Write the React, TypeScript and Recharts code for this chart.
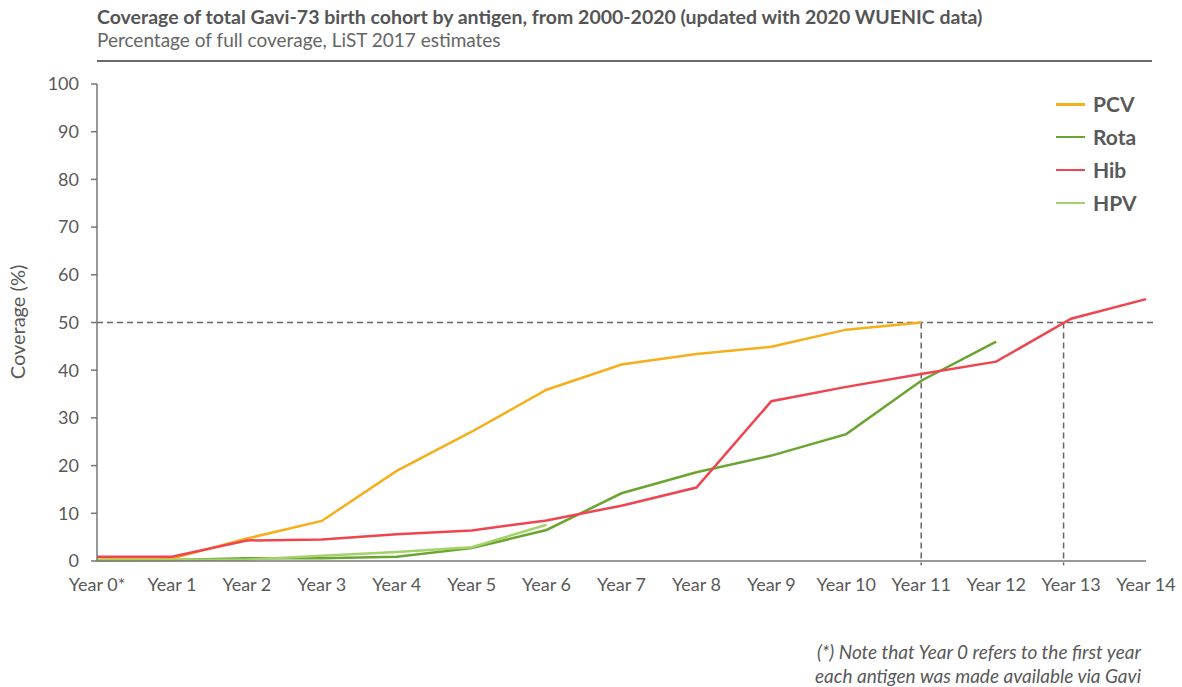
import React from 'react';
import { LineChart, Line, XAxis, YAxis, ReferenceLine } from 'recharts';

// Years since each antigen was introduced via Gavi
const years = [0, 1, 2, 3, 4, 5, 6, 7, 8, 9, 10, 11, 12, 13, 14];
const yearLabels = [
  'Year 0*', 'Year 1', 'Year 2', 'Year 3', 'Year 4', 'Year 5', 'Year 6', 'Year 7',
  'Year 8', 'Year 9', 'Year 10', 'Year 11', 'Year 12', 'Year 13', 'Year 14',
];

// Coverage (%) by antigen, one value per year since introduction
const pcv = [0.3, 0.5, 4.7, 8.4, 18.9, 27.1, 35.9, 41.2, 43.4, 44.9, 48.5, 50.0];
const rota = [0.1, 0.2, 0.6, 0.6, 0.9, 2.7, 6.5, 14.2, 18.6, 22.1, 26.6, 37.8, 46.0];
const hib = [0.9, 0.9, 4.3, 4.5, 5.6, 6.4, 8.5, 11.6, 15.4, 33.5, 36.5, 39.2, 41.8, 50.8, 54.9];
const hpv = [0.2, 0.2, 0.3, 1.1, 1.9, 2.9, 7.6];

const yTicks = [0, 10, 20, 30, 40, 50, 60, 70, 80, 90, 100];

// 50% coverage threshold and the years each antigen reaches it
const threshold = 50;
const pcvReaches = 11;
const hibReaches = 12.9;

const series = [
  { key: 'pcv', name: 'PCV', color: '#F4AF1B' },
  { key: 'rota', name: 'Rota', color: '#6AA431' },
  { key: 'hib', name: 'Hib', color: '#EE4551' },
  { key: 'hpv', name: 'HPV', color: '#A3D16A' },
];

const data = years.map((year, i) => ({
  year,
  pcv: pcv[i],
  rota: rota[i],
  hib: hib[i],
  hpv: hpv[i],
}));

const axisColor = '#767676';
const textColor = '#595959';
const font = 'Lato, "Open Sans", sans-serif';

const LegendBox = () => (
  <div style={{ position: 'absolute', left: 1056, top: 88, fontFamily: font }}>
    {series.map((s) => (
      <div key={s.key} style={{ display: 'flex', alignItems: 'center', height: 32.8 }}>
        <div style={{ width: 29, height: 2.5, background: s.color, marginRight: 8 }} />
        <span style={{ fontSize: 21, fontWeight: 700, color: textColor, lineHeight: '24px' }}>{s.name}</span>
      </div>
    ))}
  </div>
);

export default function App() {
  return (
    <div
      style={{
        position: 'absolute',
        left: 0,
        top: 0,
        width: 1182,
        height: 687,
        background: '#fff',
        fontFamily: font,
        overflow: 'hidden',
      }}
    >
      <div
        style={{
          position: 'absolute',
          left: 97,
          top: 6.5,
          fontSize: 19.5,
          lineHeight: '20px',
          fontWeight: 700,
          color: '#555',
          whiteSpace: 'nowrap',
        }}
      >
        Coverage of total Gavi-73 birth cohort by antigen, from 2000-2020 (updated with 2020 WUENIC data)
      </div>
      <div
        style={{
          position: 'absolute',
          left: 97,
          top: 29.7,
          fontSize: 19,
          lineHeight: '20px',
          color: '#666',
          whiteSpace: 'nowrap',
        }}
      >
        Percentage of full coverage, LiST 2017 estimates
      </div>
      <div
        style={{
          position: 'absolute',
          left: 97,
          top: 60,
          width: 1055,
          height: 2,
          background: '#6b6b6b',
        }}
      />
      <div
        style={{
          position: 'absolute',
          left: 17,
          top: 322,
          fontSize: 20,
          color: textColor,
          whiteSpace: 'nowrap',
          transform: 'translate(-50%, -50%) rotate(-90deg)',
        }}
      >
        Coverage (%)
      </div>

      <LineChart
        width={1182}
        height={687}
        data={data}
        margin={{ top: 84, right: 36, bottom: 96, left: 37 }}
      >
        <XAxis
          dataKey="year"
          type="number"
          domain={[0, 14]}
          ticks={years}
          interval={0}
          tickFormatter={(v: number) => yearLabels[v]}
          axisLine={{ stroke: axisColor, strokeWidth: 1.5 }}
          tickLine={false}
          tickMargin={11}
          height={30}
          tick={{ fill: textColor, fontSize: 18, fontFamily: font }}
        />
        <YAxis
          type="number"
          domain={[0, 100]}
          ticks={yTicks}
          interval={0}
          width={60}
          axisLine={{ stroke: axisColor, strokeWidth: 1.5 }}
          tickLine={{ stroke: axisColor, strokeWidth: 1.5 }}
          tickSize={6}
          tickMargin={12}
          tick={{ fill: textColor, fontSize: 18, fontFamily: font }}
        />
        <ReferenceLine
          segment={[{ x: 0, y: threshold }, { x: 14.12, y: threshold }]}
          stroke="#666"
          strokeWidth={1.5}
          strokeDasharray="6 4"
          ifOverflow="visible"
        />
        <ReferenceLine
          segment={[{ x: pcvReaches, y: threshold }, { x: pcvReaches, y: -0.9 }]}
          stroke="#666"
          strokeWidth={1.5}
          strokeDasharray="6 4"
          ifOverflow="visible"
        />
        <ReferenceLine
          segment={[{ x: hibReaches, y: threshold }, { x: hibReaches, y: -0.9 }]}
          stroke="#666"
          strokeWidth={1.5}
          strokeDasharray="6 4"
          ifOverflow="visible"
        />
        <Line dataKey="rota" name="Rota" stroke="#6AA431" strokeWidth={2.5} dot={false} isAnimationActive={false} />
        <Line dataKey="pcv" name="PCV" stroke="#F4AF1B" strokeWidth={2.5} dot={false} isAnimationActive={false} />
        <Line dataKey="hpv" name="HPV" stroke="#A3D16A" strokeWidth={2.5} dot={false} isAnimationActive={false} />
        <Line dataKey="hib" name="Hib" stroke="#EE4551" strokeWidth={2.5} dot={false} isAnimationActive={false} />
      </LineChart>

      <LegendBox />

      <div
        style={{
          position: 'absolute',
          right: 41,
          top: 640,
          fontSize: 19,
          fontStyle: 'italic',
          color: textColor,
          textAlign: 'right',
          lineHeight: '24px',
          whiteSpace: 'nowrap',
        }}
      >
        (*) Note that Year 0 refers to the first year
        <br />
        each antigen was made available via Gavi
      </div>
    </div>
  );
}
